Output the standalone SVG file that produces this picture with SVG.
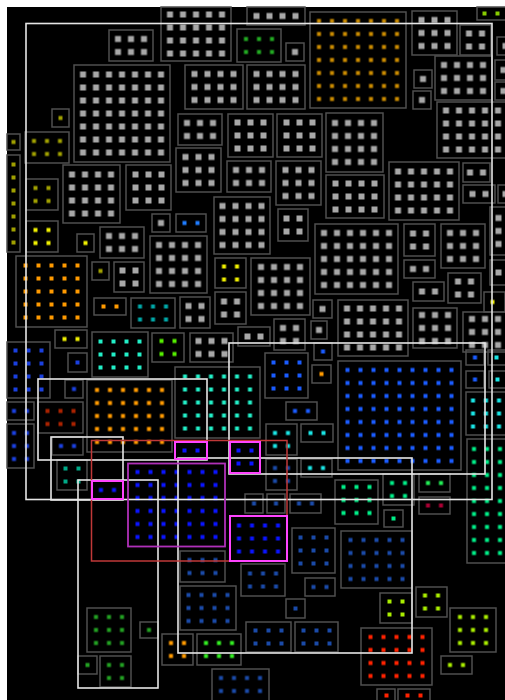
<svg xmlns="http://www.w3.org/2000/svg" width="505" height="700" viewBox="0 0 505 700">
<style>
.b{fill:none;stroke:#4f4f4f;stroke-width:1.5}
.w{fill:none;stroke:#e6e6e6;stroke-width:1.6}
.m{fill:none;stroke:#ff44ff;stroke-width:2}
</style>
<defs>
<pattern id="g" width="13" height="13" patternUnits="userSpaceOnUse"><rect x="3.5" y="3.5" width="6" height="6" fill="#a8a8a8"/></pattern>
<pattern id="au" width="13" height="13" patternUnits="userSpaceOnUse"><rect x="4.5" y="4.5" width="4" height="4" fill="#c98a00"/></pattern>
<pattern id="gn" width="13" height="13" patternUnits="userSpaceOnUse"><rect x="4.5" y="4.5" width="4" height="4" fill="#22aa22"/></pattern>
<pattern id="yg" width="13" height="13" patternUnits="userSpaceOnUse"><rect x="4.5" y="4.5" width="4" height="4" fill="#88cc00"/></pattern>
<pattern id="ol" width="13" height="13" patternUnits="userSpaceOnUse"><rect x="4.5" y="4.5" width="4" height="4" fill="#a0a000"/></pattern>
<pattern id="ye" width="13" height="13" patternUnits="userSpaceOnUse"><rect x="4.5" y="4.5" width="4" height="4" fill="#f0f000"/></pattern>
<pattern id="bb" width="13" height="13" patternUnits="userSpaceOnUse"><rect x="4.5" y="4.5" width="4" height="4" fill="#1e7cff"/></pattern>
<pattern id="or" width="13" height="13" patternUnits="userSpaceOnUse"><rect x="4.5" y="4.5" width="4" height="4" fill="#ff9a00"/></pattern>
<pattern id="te" width="13" height="13" patternUnits="userSpaceOnUse"><rect x="4.5" y="4.5" width="4" height="4" fill="#00a8a8"/></pattern>
<pattern id="cy" width="13" height="13" patternUnits="userSpaceOnUse"><rect x="4.5" y="4.5" width="4" height="4" fill="#22f0c8"/></pattern>
<pattern id="li" width="13" height="13" patternUnits="userSpaceOnUse"><rect x="4.5" y="4.5" width="4" height="4" fill="#55ee00"/></pattern>
<pattern id="bl" width="13" height="13" patternUnits="userSpaceOnUse"><rect x="4.5" y="4.5" width="4" height="4" fill="#1a40e0"/></pattern>
<pattern id="dr" width="13" height="13" patternUnits="userSpaceOnUse"><rect x="4.5" y="4.5" width="4" height="4" fill="#aa2200"/></pattern>
<pattern id="tg" width="13" height="13" patternUnits="userSpaceOnUse"><rect x="4.5" y="4.5" width="4" height="4" fill="#00aa88"/></pattern>
<pattern id="b2" width="13" height="13" patternUnits="userSpaceOnUse"><rect x="4.5" y="4.5" width="4" height="4" fill="#1a5cff"/></pattern>
<pattern id="cy2" width="13" height="13" patternUnits="userSpaceOnUse"><rect x="4.5" y="4.5" width="4" height="4" fill="#1ae6e6"/></pattern>
<pattern id="db" width="13" height="13" patternUnits="userSpaceOnUse"><rect x="4.5" y="4.5" width="4" height="4" fill="#1a4aa8"/></pattern>
<pattern id="sp" width="13" height="13" patternUnits="userSpaceOnUse"><rect x="4.5" y="4.5" width="4" height="4" fill="#00ee88"/></pattern>
<pattern id="g2" width="13" height="13" patternUnits="userSpaceOnUse"><rect x="4.5" y="4.5" width="4" height="4" fill="#22ee55"/></pattern>
<pattern id="cr" width="13" height="13" patternUnits="userSpaceOnUse"><rect x="4.5" y="4.5" width="4" height="4" fill="#aa0033"/></pattern>
<pattern id="mb" width="13" height="13" patternUnits="userSpaceOnUse"><rect x="4.5" y="4.5" width="4" height="4" fill="#0a14ff"/></pattern>
<pattern id="l2" width="13" height="13" patternUnits="userSpaceOnUse"><rect x="4.5" y="4.5" width="4" height="4" fill="#33ee22"/></pattern>
<pattern id="l3" width="13" height="13" patternUnits="userSpaceOnUse"><rect x="4.5" y="4.5" width="4" height="4" fill="#aaee00"/></pattern>
<pattern id="rd" width="13" height="13" patternUnits="userSpaceOnUse"><rect x="4.5" y="4.5" width="4" height="4" fill="#ff2200"/></pattern>
<pattern id="g3" width="13" height="13" patternUnits="userSpaceOnUse"><rect x="4.5" y="4.5" width="4" height="4" fill="#22a022"/></pattern>
</defs>
<rect width="505" height="700" fill="#ffffff"/>
<rect x="7" y="7" width="498" height="693" fill="#000000"/>
<g id="grey-boxes">
<rect class="b" x="161" y="7" width="70" height="54"/><rect transform="translate(163.5 8)" width="65" height="52" fill="url(#g)"/>
<rect class="b" x="247" y="7" width="58" height="18"/><rect transform="translate(250 9.5)" width="52" height="13" fill="url(#g)"/>
<rect class="b" x="286" y="43" width="18" height="18"/><rect transform="translate(288.5 45.5)" width="13" height="13" fill="url(#g)"/>
<rect class="b" x="412" y="11" width="45" height="44"/><rect transform="translate(415 13.5)" width="39" height="39" fill="url(#g)"/>
<rect class="b" x="460" y="25" width="31" height="30"/><rect transform="translate(462.5 27)" width="26" height="26" fill="url(#g)"/>
<rect class="b" x="497" y="37" width="12" height="18"/><rect transform="translate(499 39.5)" width="13" height="13" fill="url(#g)"/>
<rect class="b" x="109" y="30" width="44" height="31"/><rect transform="translate(111.5 32.5)" width="39" height="26" fill="url(#g)"/>
<rect class="b" x="74" y="65" width="96" height="97"/><rect transform="translate(76.5 68)" width="91" height="91" fill="url(#g)"/>
<rect class="b" x="185" y="65" width="58" height="44"/><rect transform="translate(188 67.5)" width="52" height="39" fill="url(#g)"/>
<rect class="b" x="247" y="65" width="58" height="44"/><rect transform="translate(250 67.5)" width="52" height="39" fill="url(#g)"/>
<rect class="b" x="178" y="114" width="44" height="31"/><rect transform="translate(180.5 116.5)" width="39" height="26" fill="url(#g)"/>
<rect class="b" x="228" y="114" width="45" height="43"/><rect transform="translate(231 116)" width="39" height="39" fill="url(#g)"/>
<rect class="b" x="277" y="114" width="45" height="43"/><rect transform="translate(280 116)" width="39" height="39" fill="url(#g)"/>
<rect class="b" x="176" y="148" width="45" height="44"/><rect transform="translate(179 150.5)" width="39" height="39" fill="url(#g)"/>
<rect class="b" x="227" y="161" width="44" height="31"/><rect transform="translate(229.5 163.5)" width="39" height="26" fill="url(#g)"/>
<rect class="b" x="276" y="161" width="45" height="44"/><rect transform="translate(279 163.5)" width="39" height="39" fill="url(#g)"/>
<rect class="b" x="326" y="113" width="57" height="59"/><rect transform="translate(328.5 116.5)" width="52" height="52" fill="url(#g)"/>
<rect class="b" x="326" y="175" width="58" height="43"/><rect transform="translate(329 177)" width="52" height="39" fill="url(#g)"/>
<rect class="b" x="389" y="162" width="70" height="58"/><rect transform="translate(391.5 165)" width="65" height="52" fill="url(#g)"/>
<rect class="b" x="435" y="56" width="57" height="44"/><rect transform="translate(437.5 58.5)" width="52" height="39" fill="url(#g)"/>
<rect class="b" x="414" y="70" width="18" height="18"/><rect transform="translate(416.5 72.5)" width="13" height="13" fill="url(#g)"/>
<rect class="b" x="413" y="91" width="18" height="18"/><rect transform="translate(415.5 93.5)" width="13" height="13" fill="url(#g)"/>
<rect class="b" x="437" y="102" width="70" height="56"/><rect transform="translate(439.5 104)" width="65" height="52" fill="url(#g)"/>
<rect class="b" x="463" y="163" width="27" height="19"/><rect transform="translate(463.5 166)" width="26" height="13" fill="url(#g)"/>
<rect class="b" x="463" y="185" width="32" height="18"/><rect transform="translate(466 187.5)" width="26" height="13" fill="url(#g)"/>
<rect class="b" x="498" y="185" width="10" height="18"/><rect transform="translate(499 187.5)" width="13" height="13" fill="url(#g)"/>
<rect class="b" x="490" y="207" width="17" height="48"/><rect transform="translate(492 211.5)" width="13" height="39" fill="url(#g)"/>
<rect class="b" x="495" y="60" width="12" height="20"/><rect transform="translate(497 63.5)" width="13" height="13" fill="url(#g)"/>
<rect class="b" x="495" y="82" width="12" height="18"/><rect transform="translate(497 84.5)" width="13" height="13" fill="url(#g)"/>
<rect class="b" x="63" y="165" width="57" height="58"/><rect transform="translate(65.5 168)" width="52" height="52" fill="url(#g)"/>
<rect class="b" x="126" y="165" width="45" height="45"/><rect transform="translate(129 168)" width="39" height="39" fill="url(#g)"/>
<rect class="b" x="100" y="227" width="44" height="31"/><rect transform="translate(102.5 229.5)" width="39" height="26" fill="url(#g)"/>
<rect class="b" x="152" y="214" width="18" height="18"/><rect transform="translate(154.5 216.5)" width="13" height="13" fill="url(#g)"/>
<rect class="b" x="150" y="236" width="57" height="57"/><rect transform="translate(152.5 238.5)" width="52" height="52" fill="url(#g)"/>
<rect class="b" x="214" y="197" width="56" height="57"/><rect transform="translate(216 199.5)" width="52" height="52" fill="url(#g)"/>
<rect class="b" x="278" y="209" width="30" height="32"/><rect transform="translate(280 212)" width="26" height="26" fill="url(#g)"/>
<rect class="b" x="315" y="224" width="83" height="70"/><rect transform="translate(317.5 226.5)" width="78" height="65" fill="url(#g)"/>
<rect class="b" x="251" y="258" width="59" height="57"/><rect transform="translate(254.5 260.5)" width="52" height="52" fill="url(#g)"/>
<rect class="b" x="215" y="292" width="31" height="32"/><rect transform="translate(217.5 295)" width="26" height="26" fill="url(#g)"/>
<rect class="b" x="180" y="297" width="30" height="31"/><rect transform="translate(182 299.5)" width="26" height="26" fill="url(#g)"/>
<rect class="b" x="114" y="262" width="30" height="30"/><rect transform="translate(116 264)" width="26" height="26" fill="url(#g)"/>
<rect class="b" x="404" y="224" width="31" height="32"/><rect transform="translate(406.5 227)" width="26" height="26" fill="url(#g)"/>
<rect class="b" x="441" y="224" width="44" height="44"/><rect transform="translate(443.5 226.5)" width="39" height="39" fill="url(#g)"/>
<rect class="b" x="404" y="260" width="31" height="18"/><rect transform="translate(406.5 262.5)" width="26" height="13" fill="url(#g)"/>
<rect class="b" x="413" y="282" width="31" height="19"/><rect transform="translate(415.5 285)" width="26" height="13" fill="url(#g)"/>
<rect class="b" x="448" y="273" width="33" height="30"/><rect transform="translate(451.5 275)" width="26" height="26" fill="url(#g)"/>
<rect class="b" x="490" y="260" width="17" height="25"/><rect transform="translate(492 266)" width="13" height="13" fill="url(#g)"/>
<rect class="b" x="338" y="300" width="70" height="56"/><rect transform="translate(340.5 302)" width="65" height="52" fill="url(#g)"/>
<rect class="b" x="413" y="308" width="44" height="40"/><rect transform="translate(415.5 308.5)" width="39" height="39" fill="url(#g)"/>
<rect class="b" x="463" y="312" width="44" height="40"/><rect transform="translate(465.5 312.5)" width="39" height="39" fill="url(#g)"/>
<rect class="b" x="190" y="333" width="43" height="29"/><rect transform="translate(192 334.5)" width="39" height="26" fill="url(#g)"/>
<rect class="b" x="238" y="327" width="32" height="19"/><rect transform="translate(241 330)" width="26" height="13" fill="url(#g)"/>
<rect class="b" x="274" y="319" width="31" height="31"/><rect transform="translate(276.5 321.5)" width="26" height="26" fill="url(#g)"/>
<rect class="b" x="311" y="321" width="16" height="18"/><rect transform="translate(312.5 323.5)" width="13" height="13" fill="url(#g)"/>
<rect class="b" x="313" y="300" width="19" height="18"/><rect transform="translate(316 302.5)" width="13" height="13" fill="url(#g)"/>
</g>
<g id="colour-boxes">
<rect class="b" x="237" y="29" width="44" height="33"/><rect transform="translate(239.5 32.5)" width="39" height="26" fill="url(#gn)"/>
<rect class="b" x="310" y="12" width="96" height="96"/><rect transform="translate(312.5 14.5)" width="91" height="91" fill="url(#au)"/>
<rect class="b" x="477" y="7" width="30" height="13"/><rect transform="translate(478 7)" width="26" height="13" fill="url(#yg)"/>
<rect class="b" x="52" y="109" width="17" height="18"/><rect transform="translate(54 111.5)" width="13" height="13" fill="url(#ol)"/>
<rect class="b" x="7" y="134" width="13" height="16"/><rect transform="translate(7 135.5)" width="13" height="13" fill="url(#ol)"/>
<rect class="b" x="25" y="132" width="44" height="31"/><rect transform="translate(27.5 134.5)" width="39" height="26" fill="url(#ol)"/>
<rect class="b" x="7" y="155" width="13" height="97"/><rect transform="translate(7 158)" width="13" height="91" fill="url(#ol)"/>
<rect class="b" x="26" y="179" width="32" height="31"/><rect transform="translate(29 181.5)" width="26" height="26" fill="url(#ol)"/>
<rect class="b" x="26" y="221" width="32" height="31"/><rect transform="translate(29 223.5)" width="26" height="26" fill="url(#ye)"/>
<rect class="b" x="77" y="234" width="17" height="18"/><rect transform="translate(79 236.5)" width="13" height="13" fill="url(#ye)"/>
<rect class="b" x="176" y="214" width="30" height="18"/><rect transform="translate(178 216.5)" width="26" height="13" fill="url(#bb)"/>
<rect class="b" x="215" y="258" width="31" height="30"/><rect transform="translate(217.5 260)" width="26" height="26" fill="url(#ye)"/>
<rect class="b" x="16" y="256" width="71" height="71"/><rect transform="translate(19 259)" width="65" height="65" fill="url(#or)"/>
<rect class="b" x="92" y="262" width="17" height="18"/><rect transform="translate(94 264.5)" width="13" height="13" fill="url(#ol)"/>
<rect class="b" x="94" y="298" width="32" height="17"/><rect transform="translate(97 300)" width="26" height="13" fill="url(#or)"/>
<rect class="b" x="131" y="298" width="44" height="30"/><rect transform="translate(133.5 300)" width="39" height="26" fill="url(#te)"/>
<rect class="b" x="55" y="330" width="32" height="18"/><rect transform="translate(58 332.5)" width="26" height="13" fill="url(#ye)"/>
<rect class="b" x="92" y="332" width="56" height="45"/><rect transform="translate(94 335)" width="52" height="39" fill="url(#cy)"/>
<rect class="b" x="152" y="333" width="32" height="29"/><rect transform="translate(155 334.5)" width="26" height="26" fill="url(#li)"/>
<rect class="b" x="7" y="342" width="43" height="56"/><rect transform="translate(9 344)" width="39" height="52" fill="url(#bl)"/>
<rect class="b" x="68" y="353" width="19" height="19"/><rect transform="translate(71 356)" width="13" height="13" fill="url(#bl)"/>
<rect class="b" x="65" y="380" width="18" height="18"/><rect transform="translate(67.5 382.5)" width="13" height="13" fill="url(#bl)"/>
<rect class="b" x="7" y="402" width="27" height="18"/><rect transform="translate(7.5 404.5)" width="26" height="13" fill="url(#bl)"/>
<rect class="b" x="7" y="424" width="27" height="44"/><rect transform="translate(7.5 426.5)" width="26" height="39" fill="url(#bl)"/>
<rect class="b" x="38" y="402" width="45" height="31"/><rect transform="translate(41 404.5)" width="39" height="26" fill="url(#dr)"/>
<rect class="b" x="87" y="380" width="85" height="72"/><rect transform="translate(90.5 383.5)" width="78" height="65" fill="url(#or)"/>
<rect class="b" x="52" y="437" width="31" height="18"/><rect transform="translate(54.5 439.5)" width="26" height="13" fill="url(#bl)"/>
<rect class="b" x="57" y="460" width="30" height="30"/><rect transform="translate(59 462)" width="26" height="26" fill="url(#tg)"/>
<rect class="b" x="175" y="367" width="85" height="71"/><rect transform="translate(178.5 370)" width="78" height="65" fill="url(#cy)"/>
<rect class="b" x="265" y="353" width="43" height="45"/><rect transform="translate(267 356)" width="39" height="39" fill="url(#b2)"/>
<rect class="b" x="314" y="343" width="18" height="17"/><rect transform="translate(316.5 345)" width="13" height="13" fill="url(#b2)"/>
<rect class="b" x="312" y="365" width="19" height="18"/><rect transform="translate(315 367.5)" width="13" height="13" fill="url(#or)"/>
<rect class="b" x="286" y="402" width="31" height="18"/><rect transform="translate(288.5 404.5)" width="26" height="13" fill="url(#b2)"/>
<rect class="b" x="266" y="424" width="31" height="31"/><rect transform="translate(268.5 426.5)" width="26" height="26" fill="url(#cy2)"/>
<rect class="b" x="301" y="424" width="32" height="18"/><rect transform="translate(304 426.5)" width="26" height="13" fill="url(#cy2)"/>
<rect class="b" x="266" y="459" width="31" height="31"/><rect transform="translate(268.5 461.5)" width="26" height="26" fill="url(#db)"/>
<rect class="b" x="301" y="459" width="31" height="18"/><rect transform="translate(303.5 461.5)" width="26" height="13" fill="url(#cy2)"/>
<rect class="b" x="245" y="494" width="18" height="19"/><rect transform="translate(247.5 497)" width="13" height="13" fill="url(#db)"/>
<rect class="b" x="267" y="494" width="18" height="19"/><rect transform="translate(269.5 497)" width="13" height="13" fill="url(#db)"/>
<rect class="b" x="290" y="494" width="31" height="19"/><rect transform="translate(292.5 497)" width="26" height="13" fill="url(#db)"/>
<rect class="b" x="338" y="361" width="123" height="109"/><rect transform="translate(341 363.5)" width="117" height="104" fill="url(#b2)"/>
<rect class="b" x="466" y="350" width="18" height="15"/><rect transform="translate(468.5 351)" width="13" height="13" fill="url(#b2)"/>
<rect class="b" x="488" y="350" width="19" height="15"/><rect transform="translate(490 351)" width="13" height="13" fill="url(#cy2)"/>
<rect class="b" x="466" y="371" width="18" height="17"/><rect transform="translate(468.5 373)" width="13" height="13" fill="url(#b2)"/>
<rect class="b" x="489" y="371" width="18" height="17"/><rect transform="translate(491 373)" width="13" height="13" fill="url(#cy2)"/>
<rect class="b" x="466" y="392" width="42" height="43"/><rect transform="translate(466.5 394)" width="39" height="39" fill="url(#cy2)"/>
<rect class="b" x="467" y="439" width="42" height="124"/><rect transform="translate(467.5 442.5)" width="39" height="117" fill="url(#sp)"/>
<rect class="b" x="383" y="474" width="31" height="31"/><rect transform="translate(385.5 476.5)" width="26" height="26" fill="url(#sp)"/>
<rect class="b" x="419" y="474" width="31" height="18"/><rect transform="translate(421.5 476.5)" width="26" height="13" fill="url(#g2)"/>
<rect class="b" x="419" y="497" width="31" height="17"/><rect transform="translate(421.5 499)" width="26" height="13" fill="url(#cr)"/>
<rect class="b" x="335" y="480" width="43" height="44"/><rect transform="translate(337 480.5)" width="39" height="39" fill="url(#sp)"/>
<rect class="b" x="384" y="510" width="19" height="17"/><rect transform="translate(387 512)" width="13" height="13" fill="url(#sp)"/>
<rect transform="translate(131 465.5)" width="91" height="78" fill="url(#mb)"/>
<rect transform="translate(94.5 483.5)" width="26" height="13" fill="url(#mb)"/>
<rect transform="translate(178 444)" width="26" height="13" fill="url(#mb)"/>
<rect transform="translate(232 444)" width="26" height="26" fill="url(#mb)"/>
<rect transform="translate(232.5 519)" width="52" height="39" fill="url(#mb)"/>
<rect class="b" x="180" y="551" width="45" height="31"/><rect transform="translate(183 553.5)" width="39" height="26" fill="url(#db)"/>
<rect class="b" x="241" y="564" width="44" height="32"/><rect transform="translate(243.5 567)" width="39" height="26" fill="url(#db)"/>
<rect class="b" x="292" y="528" width="43" height="45"/><rect transform="translate(294 531)" width="39" height="39" fill="url(#db)"/>
<rect class="b" x="305" y="578" width="30" height="18"/><rect transform="translate(307 580.5)" width="26" height="13" fill="url(#db)"/>
<rect class="b" x="180" y="586" width="56" height="44"/><rect transform="translate(182 588.5)" width="52" height="39" fill="url(#db)"/>
<rect class="b" x="286" y="599" width="19" height="19"/><rect transform="translate(289 602)" width="13" height="13" fill="url(#db)"/>
<rect class="b" x="162" y="634" width="31" height="31"/><rect transform="translate(164.5 636.5)" width="26" height="26" fill="url(#or)"/>
<rect class="b" x="197" y="634" width="44" height="31"/><rect transform="translate(199.5 636.5)" width="39" height="26" fill="url(#l2)"/>
<rect class="b" x="246" y="622" width="45" height="30"/><rect transform="translate(249 624)" width="39" height="26" fill="url(#db)"/>
<rect class="b" x="295" y="622" width="43" height="30"/><rect transform="translate(297 624)" width="39" height="26" fill="url(#db)"/>
<rect class="b" x="212" y="669" width="57" height="33"/><rect transform="translate(214.5 671.5)" width="52" height="26" fill="url(#db)"/>
<rect class="b" x="341" y="531" width="71" height="57"/><rect transform="translate(344 533.5)" width="65" height="52" fill="url(#db)"/>
<rect class="b" x="380" y="593" width="32" height="30"/><rect transform="translate(383 595)" width="26" height="26" fill="url(#l3)"/>
<rect class="b" x="416" y="587" width="31" height="30"/><rect transform="translate(418.5 589)" width="26" height="26" fill="url(#l3)"/>
<rect class="b" x="450" y="608" width="46" height="44"/><rect transform="translate(453.5 610.5)" width="39" height="39" fill="url(#l3)"/>
<rect class="b" x="361" y="628" width="71" height="57"/><rect transform="translate(364 630.5)" width="65" height="52" fill="url(#rd)"/>
<rect class="b" x="441" y="656" width="31" height="18"/><rect transform="translate(443.5 658.5)" width="26" height="13" fill="url(#l3)"/>
<rect class="b" x="377" y="689" width="18" height="14"/><rect transform="translate(380 689)" width="13" height="13" fill="url(#rd)"/>
<rect class="b" x="398" y="689" width="32" height="14"/><rect transform="translate(401 689)" width="26" height="13" fill="url(#rd)"/>
<rect class="b" x="87" y="608" width="44" height="44"/><rect transform="translate(89.5 610.5)" width="39" height="39" fill="url(#g3)"/>
<rect class="b" x="140" y="622" width="18" height="16"/><rect transform="translate(142.5 623.5)" width="13" height="13" fill="url(#g3)"/>
<rect class="b" x="78" y="656" width="19" height="18"/><rect transform="translate(81 658.5)" width="13" height="13" fill="url(#g3)"/>
<rect class="b" x="100" y="656" width="31" height="31"/><rect transform="translate(102.5 658.5)" width="26" height="26" fill="url(#g3)"/>
<rect class="b" x="484" y="292" width="21" height="20"/><rect transform="translate(486 295.5)" width="13" height="13" fill="url(#ye)"/>
</g>
<g id="selections">
<rect class="w" x="26" y="23.5" width="466" height="476"/>
<rect class="w" x="229" y="343" width="256" height="131"/>
<rect class="w" x="38" y="379" width="169" height="81"/>
<rect class="w" x="51" y="437" width="72" height="63"/>
<rect class="w" x="178" y="458" width="234" height="195"/>
<rect class="w" x="78" y="480" width="80" height="208" stroke="#d0d0d0"/>
<rect x="91.5" y="440.5" width="195.5" height="120.5" fill="none" stroke="#c03838" stroke-width="1.5"/>
<rect x="128" y="463.5" width="97" height="83" fill="none" stroke="#b030b8" stroke-width="1.8"/>
<rect class="m" x="92" y="481" width="31" height="18"/>
<rect class="m" x="175" y="442" width="32" height="17"/>
<rect class="m" x="230" y="442" width="30" height="31"/>
<rect class="m" x="230" y="516" width="57" height="45"/>
</g>
</svg>
